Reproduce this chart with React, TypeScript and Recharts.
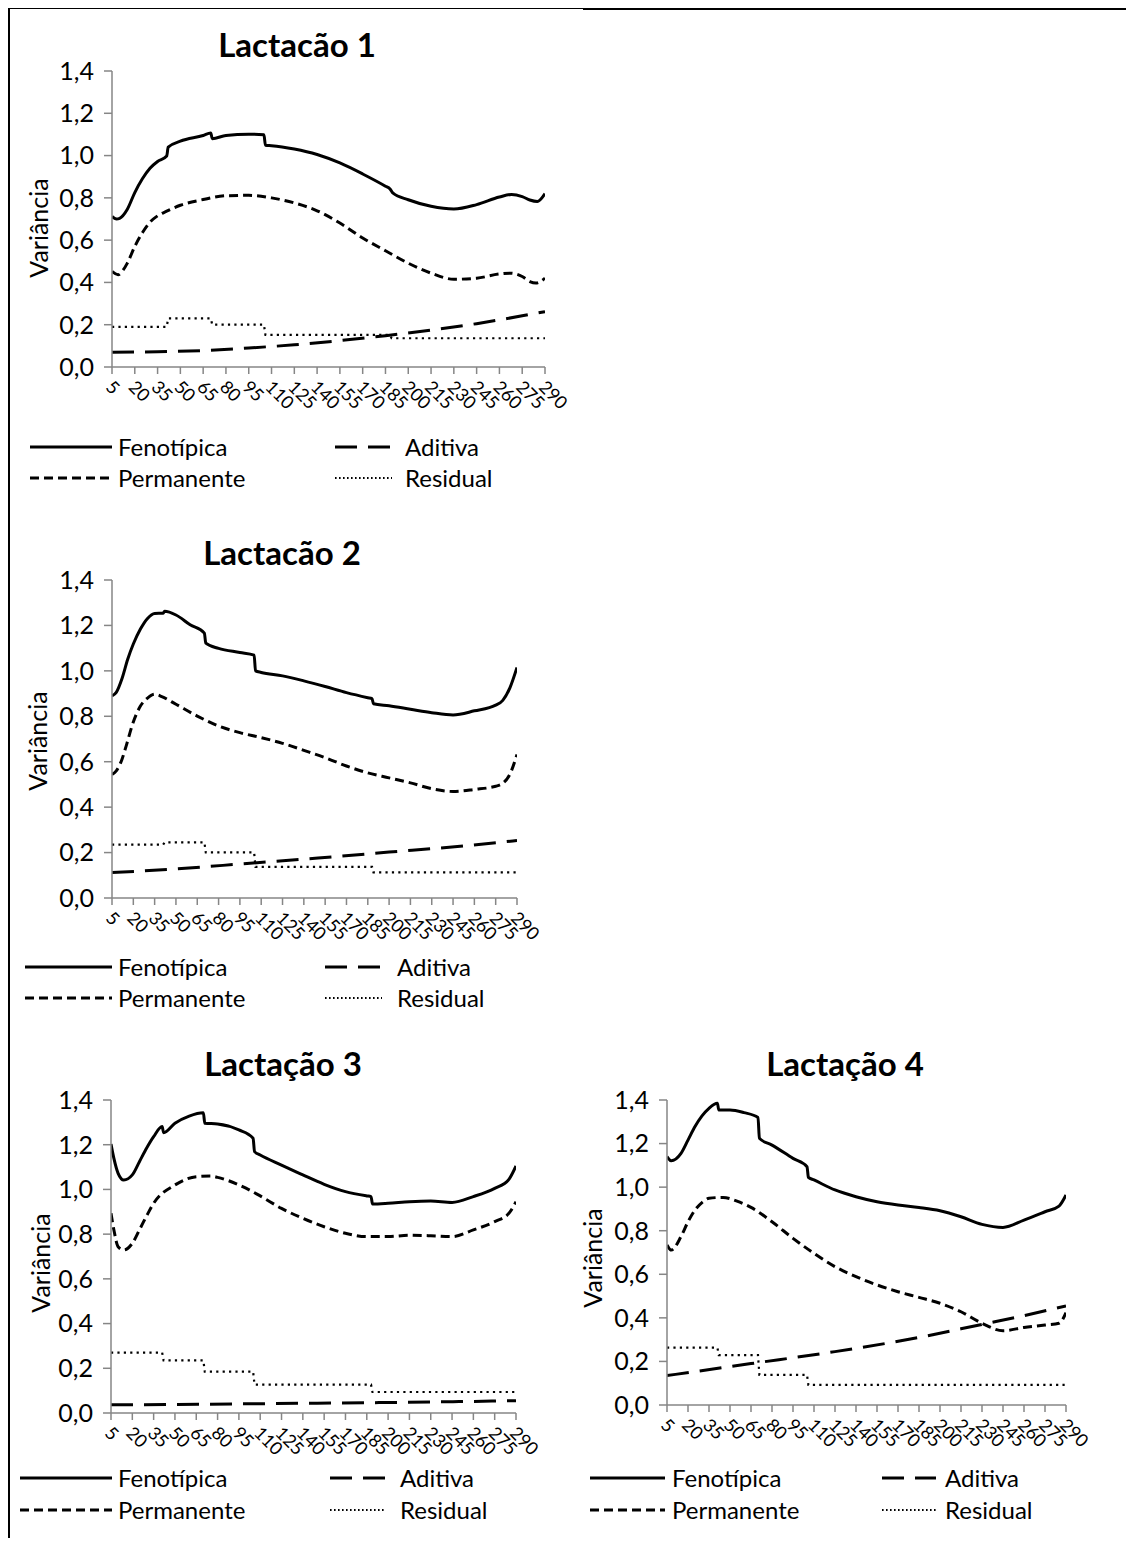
import React from 'react';
import { LineChart, Line, XAxis, YAxis } from 'recharts';

// eixo x: dias em lactação
const dayTicks = [5, 20, 35, 50, 65, 80, 95, 110, 125, 140, 155, 170, 185, 200, 215, 230, 245, 260, 275, 290];
const varTicks = [0, 0.2, 0.4, 0.6, 0.8, 1.0, 1.2, 1.4];

type Pt = [number, number];

// Lactação 1
const lac1Fenotipica: Pt[] = [
    [5, 0.712], [8, 0.7], [10, 0.703], [15, 0.745], [20, 0.825], [25, 0.89], [30, 0.94], [35, 0.972], [41, 0.998],
    [42, 1.04], [50, 1.068], [65, 1.095], [70, 1.107], [71, 1.08], [80, 1.095], [95, 1.101], [105, 1.098],
    [106, 1.049], [110, 1.047], [125, 1.031], [140, 1.005], [155, 0.965], [170, 0.913], [185, 0.855], [188, 0.842],
    [190, 0.822], [200, 0.791], [215, 0.76], [230, 0.747], [245, 0.768], [260, 0.804], [268, 0.816], [275, 0.806],
    [280, 0.79], [285, 0.783], [290, 0.82],
];
const lac1Permanente: Pt[] = [
    [5, 0.452], [9, 0.436], [12, 0.455], [15, 0.49], [20, 0.57], [25, 0.635], [30, 0.685], [35, 0.715], [41, 0.737],
    [50, 0.765], [65, 0.792], [80, 0.81], [95, 0.812], [110, 0.8], [125, 0.776], [140, 0.739], [155, 0.681],
    [170, 0.61], [185, 0.55], [200, 0.491], [215, 0.444], [230, 0.415], [245, 0.42], [260, 0.44], [267, 0.444],
    [275, 0.428], [280, 0.404], [284, 0.397], [290, 0.42],
];
const lac1Aditiva: Pt[] = [
    [5, 0.07], [35, 0.072], [65, 0.078], [95, 0.09], [125, 0.105], [155, 0.125], [185, 0.148], [215, 0.175],
    [245, 0.205], [275, 0.242], [290, 0.262],
];
const lac1Residual: Pt[] = [
    [5, 0.19], [41, 0.19], [42, 0.23], [70, 0.23], [71, 0.2], [105, 0.2], [106, 0.152], [188, 0.152], [189, 0.136], [290, 0.136],
];

// Lactação 2
const lac2Fenotipica: Pt[] = [
    [5, 0.89], [8, 0.905], [12, 0.965], [16, 1.05], [20, 1.118], [25, 1.184], [30, 1.231], [35, 1.253], [41, 1.254],
    [42, 1.262], [50, 1.246], [60, 1.203], [70, 1.166], [71, 1.122], [80, 1.099], [95, 1.081], [105, 1.069],
    [106, 1.0], [110, 0.993], [125, 0.978], [140, 0.956], [155, 0.931], [170, 0.904], [185, 0.882], [188, 0.878],
    [189, 0.855], [200, 0.846], [215, 0.831], [230, 0.816], [245, 0.806], [260, 0.824], [275, 0.849], [280, 0.87],
    [285, 0.925], [290, 1.015],
];
const lac2Permanente: Pt[] = [
    [5, 0.544], [8, 0.56], [12, 0.61], [15, 0.67], [20, 0.775], [25, 0.845], [30, 0.88], [35, 0.897], [40, 0.887],
    [50, 0.853], [65, 0.801], [80, 0.757], [95, 0.728], [110, 0.706], [125, 0.681], [140, 0.65], [155, 0.618],
    [170, 0.581], [185, 0.551], [200, 0.529], [215, 0.507], [230, 0.481], [245, 0.469], [260, 0.478], [275, 0.492],
    [280, 0.505], [285, 0.545], [290, 0.632],
];
const lac2Aditiva: Pt[] = [
    [5, 0.112], [50, 0.128], [100, 0.152], [150, 0.176], [200, 0.202], [250, 0.228], [290, 0.253],
];
const lac2Residual: Pt[] = [
    [5, 0.235], [41, 0.235], [42, 0.245], [70, 0.245], [71, 0.201], [105, 0.201], [106, 0.137], [188, 0.137], [189, 0.113], [290, 0.113],
];

// Lactação 3
const lac3Fenotipica: Pt[] = [
    [5, 1.203], [7, 1.14], [10, 1.072], [14, 1.042], [20, 1.065], [25, 1.124], [30, 1.184], [35, 1.236], [41, 1.281],
    [42, 1.254], [50, 1.296], [60, 1.328], [70, 1.343], [71, 1.296], [80, 1.293], [95, 1.266], [105, 1.229],
    [106, 1.169], [110, 1.154], [125, 1.109], [140, 1.065], [155, 1.023], [170, 0.99], [185, 0.971], [188, 0.968],
    [189, 0.935], [200, 0.938], [215, 0.945], [230, 0.948], [245, 0.942], [260, 0.968], [275, 1.005], [285, 1.045],
    [290, 1.105],
];
const lac3Permanente: Pt[] = [
    [5, 0.893], [7, 0.82], [10, 0.744], [14, 0.729], [20, 0.759], [25, 0.819], [30, 0.881], [35, 0.938], [50, 1.02],
    [65, 1.057], [75, 1.06], [80, 1.054], [95, 1.02], [110, 0.971], [125, 0.915], [140, 0.871], [155, 0.833],
    [170, 0.804], [185, 0.789], [200, 0.789], [215, 0.795], [230, 0.793], [245, 0.789], [260, 0.819], [275, 0.856],
    [285, 0.893], [290, 0.945],
];
const lac3Aditiva: Pt[] = [
    [5, 0.037], [50, 0.038], [100, 0.041], [150, 0.044], [200, 0.047], [250, 0.051], [290, 0.055],
];
const lac3Residual: Pt[] = [
    [5, 0.27], [41, 0.27], [42, 0.235], [70, 0.235], [71, 0.185], [105, 0.185], [106, 0.127], [188, 0.127], [189, 0.094], [290, 0.094],
];

// Lactação 4
const lac4Fenotipica: Pt[] = [
    [5, 1.14], [8, 1.121], [15, 1.155], [20, 1.216], [25, 1.278], [30, 1.327], [35, 1.362], [41, 1.385], [42, 1.354],
    [50, 1.354], [60, 1.342], [70, 1.32], [71, 1.224], [80, 1.193], [95, 1.132], [105, 1.094], [106, 1.045],
    [110, 1.033], [125, 0.987], [140, 0.956], [155, 0.933], [170, 0.918], [185, 0.907], [200, 0.892], [215, 0.864],
    [230, 0.829], [245, 0.815], [260, 0.849], [275, 0.887], [285, 0.913], [290, 0.964],
];
const lac4Permanente: Pt[] = [
    [5, 0.734], [8, 0.711], [15, 0.773], [20, 0.841], [25, 0.895], [30, 0.929], [35, 0.949], [45, 0.953], [55, 0.936],
    [65, 0.907], [80, 0.841], [95, 0.765], [110, 0.696], [125, 0.635], [140, 0.589], [155, 0.551], [170, 0.52],
    [185, 0.494], [200, 0.467], [215, 0.428], [230, 0.375], [245, 0.341], [260, 0.356], [275, 0.367], [285, 0.375],
    [290, 0.424],
];
const lac4Aditiva: Pt[] = [
    [5, 0.135], [65, 0.19], [125, 0.245], [185, 0.31], [230, 0.37], [260, 0.41], [290, 0.455],
];
const lac4Residual: Pt[] = [
    [5, 0.263], [41, 0.263], [42, 0.229], [70, 0.229], [71, 0.138], [105, 0.138], [106, 0.092], [290, 0.092],
];

const FONT = 'Lato, Carlito, Calibri, sans-serif';
const AXIS = '#868686';

const toRows = (pts: Pt[]) => pts.map(([day, v]) => ({ day, v }));

const styles = {
    fen: { width: 3, dash: undefined as string | undefined, type: 'monotone' },
    adit: { width: 3, dash: '22 11', type: 'monotone' },
    perm: { width: 3, dash: '9 5', type: 'monotone' },
    res: { width: 2.2, dash: '2.2 4.2', type: 'linear' },
};

const XTick = (props: any) => {
    const { x, y, payload } = props;
    const ax = x - 4;
    const ay = y + 11;
    return (
        <text x={ax} y={ay} transform={`rotate(45 ${ax} ${ay})`} textAnchor="start" dominantBaseline="middle"
            fontSize={18} fontFamily={FONT} fill="#000">
            {payload.value}
        </text>
    );
};

function LegendSample({ x1, x2, y, s }: { x1: number; x2: number; y: number; s: keyof typeof styles }) {
    const st = styles[s];
    return (
        <svg style={{ position: 'absolute', left: x1, top: y - 5 }} width={x2 - x1} height={10}>
            <line x1={0} y1={5} x2={x2 - x1} y2={5} stroke="#000" strokeWidth={st.width} strokeDasharray={s === 'res' ? '1.6 2.4' : st.dash} />
        </svg>
    );
}

function LegendText({ x, y, children }: { x: number; y: number; children: React.ReactNode }) {
    return (
        <div style={{ position: 'absolute', left: x, top: y - 16, height: 32, lineHeight: '32px', fontSize: 24, whiteSpace: 'nowrap' }}>
            {children}
        </div>
    );
}

type PanelProps = {
    title: string;
    titleX: number;
    titleY: number;
    labelX: number;
    labelY: number;
    plot: { left: number; right: number; top: number; bottom: number };
    chartLeft: number;
    legend: { c1: [number, number, number]; c2: [number, number, number]; rows: [number, number] };
    fen: Pt[];
    perm: Pt[];
    adit: Pt[];
    res: Pt[];
};

function Panel(p: PanelProps) {
    const yAxisW = 70;
    const xAxisH = 60;
    const top = p.plot.top - 20;
    const width = p.plot.right + 30 - p.chartLeft;
    const height = p.plot.bottom - p.plot.top + 20 + xAxisH;
    const series: [keyof typeof styles, Pt[]][] = [['fen', p.fen], ['perm', p.perm], ['adit', p.adit], ['res', p.res]];
    const [s1, e1, t1] = p.legend.c1;
    const [s2, e2, t2] = p.legend.c2;
    const [r1, r2] = p.legend.rows;
    return (
        <>
            <div style={{ position: 'absolute', left: p.titleX - 200, top: p.titleY - 21, width: 400, height: 42, lineHeight: '42px', textAlign: 'center', fontSize: 33, fontWeight: 700 }}>
                {p.title}
            </div>
            <div style={{ position: 'absolute', left: p.labelX - 100, top: p.labelY - 16, width: 200, height: 32, lineHeight: '32px', textAlign: 'center', fontSize: 25, transform: 'rotate(-90deg)' }}>
                Variância
            </div>
            <div style={{ position: 'absolute', left: p.chartLeft, top }}>
                <LineChart width={width} height={height} margin={{ top: 20, right: 30, bottom: 0, left: p.plot.left - p.chartLeft - yAxisW }}>
                    <XAxis dataKey="day" type="number" domain={[5, 290]} ticks={dayTicks} interval={0} height={xAxisH}
                        axisLine={{ stroke: AXIS, strokeWidth: 1.5 }} tickLine={{ stroke: AXIS, strokeWidth: 1.5 }} tickSize={7} tickMargin={0}
                        tick={<XTick />} allowDataOverflow />
                    <YAxis type="number" domain={[0, 1.4]} ticks={varTicks} interval={0} width={yAxisW}
                        axisLine={{ stroke: AXIS, strokeWidth: 1.5 }} tickLine={{ stroke: AXIS, strokeWidth: 1.5 }} tickSize={8} tickMargin={10}
                        tick={{ fill: '#000', fontSize: 25, fontFamily: FONT }}
                        tickFormatter={(v: number) => v.toFixed(1).replace('.', ',')} />
                    {series.map(([k, pts]) => (
                        <Line key={k} data={toRows(pts)} dataKey="v" type={styles[k].type as any} stroke="#000"
                            strokeWidth={styles[k].width} strokeDasharray={styles[k].dash} dot={false} activeDot={false}
                            isAnimationActive={false} />
                    ))}
                </LineChart>
            </div>
            <LegendSample x1={s1} x2={e1} y={r1} s="fen" />
            <LegendText x={t1} y={r1}>Fenotípica</LegendText>
            <LegendSample x1={s2} x2={e2} y={r1} s="adit" />
            <LegendText x={t2} y={r1}>Aditiva</LegendText>
            <LegendSample x1={s1} x2={e1} y={r2} s="perm" />
            <LegendText x={t1} y={r2}>Permanente</LegendText>
            <LegendSample x1={s2} x2={e2} y={r2} s="res" />
            <LegendText x={t2} y={r2}>Residual</LegendText>
        </>
    );
}

export default function App() {
    return (
        <div style={{ position: 'absolute', left: 0, top: 0, width: 1126, height: 1546, background: '#fff', fontFamily: FONT, color: '#000' }}>
            {/* moldura */}
            <div style={{ position: 'absolute', left: 8, top: 8, width: 2, height: 1530, background: '#000' }} />
            <div style={{ position: 'absolute', left: 8, top: 8, width: 575, height: 1, background: '#000' }} />
            <div style={{ position: 'absolute', left: 583, top: 8, width: 543, height: 2, background: '#000' }} />

            <Panel title="Lactacão 1" titleX={297} titleY={44} labelX={38} labelY={228}
                plot={{ left: 112, right: 545, top: 71, bottom: 367 }} chartLeft={0}
                legend={{ c1: [30, 112, 118], c2: [335, 392, 405], rows: [447, 478] }}
                fen={lac1Fenotipica} perm={lac1Permanente} adit={lac1Aditiva} res={lac1Residual} />
            <Panel title="Lactacão 2" titleX={282} titleY={552} labelX={37} labelY={741}
                plot={{ left: 112, right: 517, top: 580, bottom: 898 }} chartLeft={0}
                legend={{ c1: [25, 112, 118], c2: [325, 382, 397], rows: [967, 998] }}
                fen={lac2Fenotipica} perm={lac2Permanente} adit={lac2Aditiva} res={lac2Residual} />
            <Panel title="Lactação 3" titleX={283} titleY={1063} labelX={40} labelY={1263}
                plot={{ left: 111, right: 516, top: 1100, bottom: 1413 }} chartLeft={0}
                legend={{ c1: [20, 112, 118], c2: [330, 386, 400], rows: [1478, 1510] }}
                fen={lac3Fenotipica} perm={lac3Permanente} adit={lac3Aditiva} res={lac3Residual} />
            <Panel title="Lactação 4" titleX={845} titleY={1063} labelX={592} labelY={1258}
                plot={{ left: 667, right: 1066, top: 1100, bottom: 1405 }} chartLeft={560}
                legend={{ c1: [590, 665, 672], c2: [882, 936, 945], rows: [1478, 1510] }}
                fen={lac4Fenotipica} perm={lac4Permanente} adit={lac4Aditiva} res={lac4Residual} />
        </div>
    );
}
